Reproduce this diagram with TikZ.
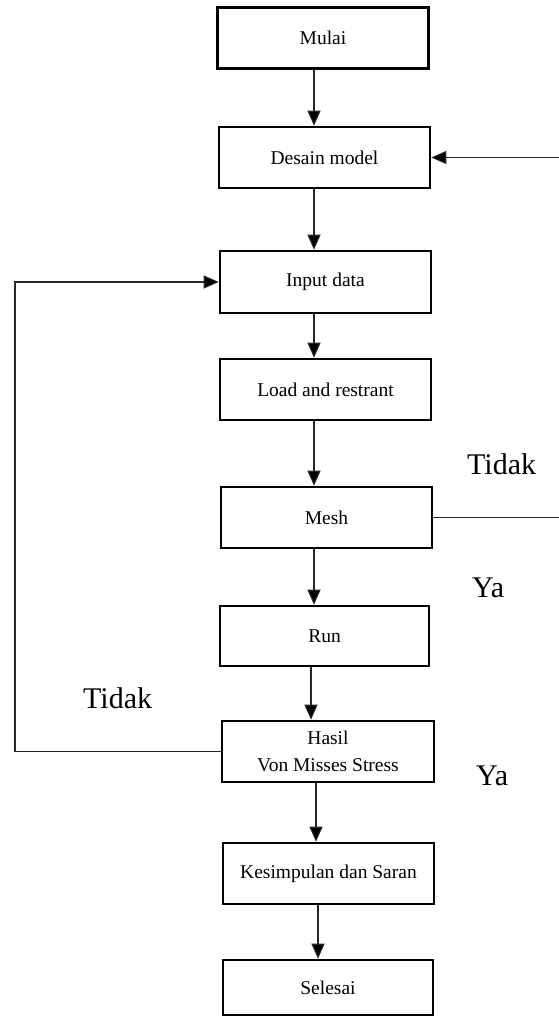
\documentclass[tikz,border=0pt]{standalone}
\usepackage{fontspec}
\setmainfont{Liberation Serif}
\usetikzlibrary{arrows.meta}
\begin{document}
\begin{tikzpicture}[x=1pt,y=-1pt,
  box/.style={draw, line width=2.6pt, minimum width=211pt, minimum height=61pt,
    inner sep=0pt, font=\fontsize{19.5}{27}\selectfont, align=center},
  arr/.style={draw=black!85, line width=1.1pt, -{Triangle[length=15pt,width=13pt,fill=black]}},
  lbl/.style={font=\fontsize{30}{34}\selectfont, inner sep=0pt, anchor=base west}]
\useasboundingbox (0,0) rectangle (558,1017);
\node[box] (mulai) at (323,38) {Mulai};
\node[box] (desain) at (324.5,157.5) {Desain model};
\node[box, minimum height=62pt] (input) at (325.5,282) {Input data};
\node[box] (load) at (325.5,389.5) {Load and restrant};
\node[box] (mesh) at (326.5,517.5) {Mesh};
\node[box, minimum width=209pt, minimum height=60pt] (run) at (324.5,636) {Run};
\node[box, minimum width=212pt] (hasil) at (328,751.5) {Hasil\\Von Misses Stress};
\node[box] (kes) at (328.5,873.5) {Kesimpulan dan Saran};
\node[box, minimum width=210pt, minimum height=55pt] (sel) at (328,987.5) {Selesai};
\node[lbl] (t1) at (467,474) {Tidak};
\node[lbl] (y1) at (472,597) {Ya};
\node[lbl] (t2) at (83,708) {Tidak};
\node[lbl] (y2) at (476,785) {Ya};
\coordinate (c1) at (314,0);
\coordinate (c2) at (311,0);
\coordinate (c3) at (316,0);
\coordinate (c4) at (318,0);
\coordinate (lx) at (15,0);
\coordinate (rx) at (566,0);
\draw[arr] (mulai.south -| c1) -- (desain.north -| c1);
\draw[arr] (desain.south -| c1) -- (input.north -| c1);
\draw[arr] (input.south -| c1) -- (load.north -| c1);
\draw[arr] (load.south -| c1) -- (mesh.north -| c1);
\draw[arr] (mesh.south -| c1) -- (run.north -| c1);
\draw[arr] (run.south -| c2) -- (hasil.north -| c2);
\draw[arr] (hasil.south -| c3) -- (kes.north -| c3);
\draw[arr] (kes.south -| c4) -- (sel.north -| c4);
\draw[arr] (hasil.west) -- (hasil.west -| lx) |- (input.west);
\draw[arr] (mesh.east) -- (mesh.east -| rx) |- (desain.east);
\end{tikzpicture}
\end{document}
